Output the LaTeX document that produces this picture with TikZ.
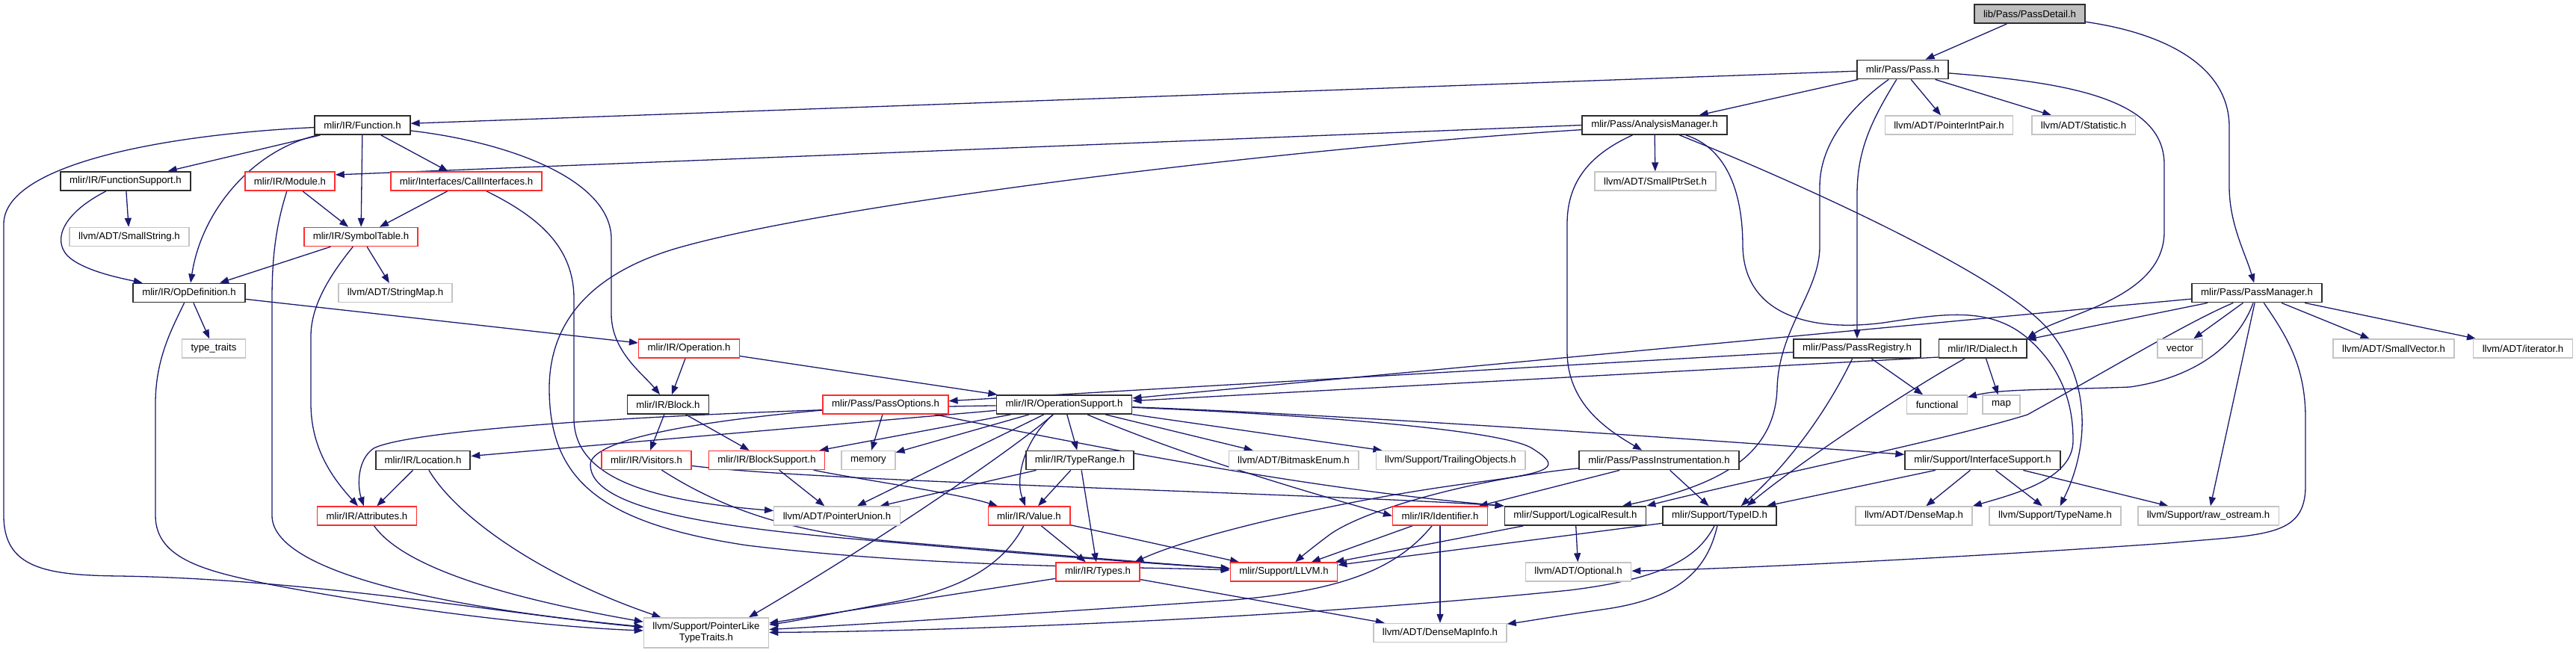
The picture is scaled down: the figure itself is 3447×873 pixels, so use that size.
\documentclass[tikz,border=0pt]{standalone}
\usepackage{fontspec}
\setmainfont{Liberation Sans}
\usepackage{tikz}
\usetikzlibrary{arrows.meta,backgrounds}
\definecolor{edgeblue}{RGB}{25,25,112}
\definecolor{docline}{RGB}{45,45,45}
\definecolor{truncred}{RGB}{255,45,45}
\definecolor{extgrey}{RGB}{196,196,196}
\definecolor{rootfill}{RGB}{191,191,191}
\tikzset{
  hdr/.style={rectangle, font=\fontsize{13.2}{15}\selectfont, text=black, inner xsep=12pt, inner ysep=1pt, minimum height=25pt, fill=white, line width=1.4pt},
  docnode/.style={hdr, draw=docline, line width=1.8pt},
  redtrunc/.style={hdr, draw=truncred},
  extfile/.style={hdr, draw=extgrey},
  rootfile/.style={docnode, fill=rootfill},
  incl/.style={-{Triangle[length=12pt,width=9pt]}, draw=edgeblue, line width=1.3pt},
}

\begin{document}
\begin{tikzpicture}[x=1pt,y=-1pt]
  \useasboundingbox (0,0) rectangle (3447,873);
  % header nodes, one row per rank
  \node[rootfile] (pd) at (2716,18.5) {lib/Pass/PassDetail.h};
  \node[docnode] (pass) at (2546,93) {mlir/Pass/Pass.h};
  \node[docnode] (func) at (485,167.5) {mlir/IR/Function.h};
  \node[docnode] (am) at (2214,167.5) {mlir/Pass/AnalysisManager.h};
  \node[extfile] (pip) at (2608,167.5) {llvm/ADT/PointerIntPair.h};
  \node[extfile] (stat) at (2788,167.5) {llvm/ADT/Statistic.h};
  \node[docnode] (fsup) at (168,242.5) {mlir/IR/FunctionSupport.h};
  \node[redtrunc] (module) at (388,242.5) {mlir/IR/Module.h};
  \node[redtrunc] (callif) at (624,242.5) {mlir/Interfaces/CallInterfaces.h};
  \node[extfile] (sptr) at (2215,242.5) {llvm/ADT/SmallPtrSet.h};
  \node[extfile] (sstr) at (173,317) {llvm/ADT/SmallString.h};
  \node[redtrunc] (symtab) at (483,317) {mlir/IR/SymbolTable.h};
  \node[docnode] (opdef) at (253,392) {mlir/IR/OpDefinition.h};
  \node[extfile] (smap) at (529,392) {llvm/ADT/StringMap.h};
  \node[docnode] (pm) at (3020,392) {mlir/Pass/PassManager.h};
  \node[extfile] (ttraits) at (286,466.5) {type\_traits};
  \node[redtrunc] (oper) at (922,466.5) {mlir/IR/Operation.h};
  \node[docnode] (preg) at (2485,466.5) {mlir/Pass/PassRegistry.h};
  \node[docnode] (dialect) at (2653,466.5) {mlir/IR/Dialect.h};
  \node[extfile] (vec) at (2917,466.5) {vector};
  \node[extfile] (svec) at (3203,466.5) {llvm/ADT/SmallVector.h};
  \node[extfile] (iter) at (3376,466.5) {llvm/ADT/iterator.h};
  \node[docnode] (block) at (894,541.5) {mlir/IR/Block.h};
  \node[redtrunc] (popt) at (1185,541.5) {mlir/Pass/PassOptions.h};
  \node[docnode] (opsup) at (1424,541.5) {mlir/IR/OperationSupport.h};
  \node[extfile] (functional) at (2592,541.5) {functional};
  \node[extfile] (map) at (2678,541.5) {map};
  \node[docnode] (loc) at (566,616) {mlir/IR/Location.h};
  \node[redtrunc] (visit) at (865,616) {mlir/IR/Visitors.h};
  \node[redtrunc] (bsup) at (1026,616) {mlir/IR/BlockSupport.h};
  \node[extfile] (mem) at (1162,616) {memory};
  \node[docnode] (trange) at (1445,616) {mlir/IR/TypeRange.h};
  \node[extfile] (bitmask) at (1731,616) {llvm/ADT/BitmaskEnum.h};
  \node[extfile] (trail) at (1941,616) {llvm/Support/TrailingObjects.h};
  \node[docnode] (pinst) at (2220,616) {mlir/Pass/PassInstrumentation.h};
  \node[docnode] (isup) at (2653,616) {mlir/Support/InterfaceSupport.h};
  \node[redtrunc] (attr) at (491,690.5) {mlir/IR/Attributes.h};
  \node[extfile] (punion) at (1120,690.5) {llvm/ADT/PointerUnion.h};
  \node[redtrunc] (value) at (1377,690.5) {mlir/IR/Value.h};
  \node[redtrunc] (ident) at (1927,690.5) {mlir/IR/Identifier.h};
  \node[docnode] (lres) at (2108,690.5) {mlir/Support/LogicalResult.h};
  \node[docnode] (typeid) at (2301,690.5) {mlir/Support/TypeID.h};
  \node[extfile] (dmap) at (2561,690.5) {llvm/ADT/DenseMap.h};
  \node[extfile] (tname) at (2750,690.5) {llvm/Support/TypeName.h};
  \node[extfile] (rawos) at (2955,690.5) {llvm/Support/raw\_ostream.h};
  \node[redtrunc] (types) at (1469,765.5) {mlir/IR/Types.h};
  \node[redtrunc] (llvm) at (1718,765.5) {mlir/Support/LLVM.h};
  \node[extfile] (optional) at (2112,765.5) {llvm/ADT/Optional.h};
  \node[extfile,align=center,minimum height=40pt] (plike) at (945,847) {llvm/Support/PointerLike\\TypeTraits.h};
  \node[extfile] (dminfo) at (1927,847) {llvm/ADT/DenseMapInfo.h};

  \begin{scope}[on background layer]
  % straight includes
  \foreach \a/\b in {pd/pass, pass/func, pass/am, pass/pip, pass/stat, func/fsup, func/symtab, func/callif,
      am/sptr, fsup/sstr, module/symtab, callif/symtab, symtab/opdef, symtab/smap, opdef/oper, opdef/ttraits,
      oper/block, oper/opsup, block/visit, block/bsup, popt/mem, preg/popt, preg/functional, dialect/map,
      pm/opsup, pm/dialect, pm/vec, pm/rawos, pm/svec, pm/iter, opsup/loc, opsup/bsup, opsup/mem,
      opsup/punion, opsup/trange, opsup/bitmask, opsup/trail, loc/attr, bsup/punion, trange/punion,
      trange/value, trange/types, value/types, value/llvm, types/plike, types/dminfo, ident/llvm,
      ident/dminfo, lres/llvm, lres/optional, typeid/llvm, isup/typeid, isup/dmap, isup/tname,
      isup/rawos, pinst/ident, pinst/typeid}
    \draw[incl] (\a) -- (\b);
  \draw[incl] (am.west) -- (module.8);
  \draw[incl] (dialect.191) -- (opsup);
  % curved includes
  \draw[incl] (pd) .. controls (2900,45) and (2983,90) .. (2983,170) -- (2983,250) .. controls (2983,300) and (3005,340) .. (pm);
  \draw[incl] (pass) .. controls (2505,160) and (2485,200) .. (2485,260) -- (preg);
  \draw[incl] (pass) .. controls (2480,140) and (2435,190) .. (2435,250) -- (2435,330) .. controls (2435,390) and (2380,440) .. (2378,520) .. controls (2375,610) and (2300,650) .. (lres.12);
  \draw[incl] (pass) .. controls (2760,110) and (2896,130) .. (2896,220) -- (2896,310) .. controls (2896,400) and (2760,420) .. (dialect.north east);
  \draw[incl] (func) .. controls (340,200) and (270,280) .. (opdef);
  \draw[incl] (func) .. controls (680,190) and (818,240) .. (818,320) -- (818,420) .. controls (818,470) and (860,500) .. (block);
  \draw[incl] (func) .. controls (220,180) and (5,220) .. (5,300) -- (5,690) .. controls (5,760) and (60,770) .. (160,771) .. controls (420,775) and (700,825) .. (plike);
  \draw[incl] (am) .. controls (2120,210) and (2097,250) .. (2097,300) -- (2097,470) .. controls (2097,540) and (2150,575) .. (pinst);
  \draw[incl] (am) .. controls (1700,200) and (1100,275) .. (903,333) .. controls (780,370) and (735,440) .. (735,520) .. controls (735,640) and (800,700) .. (1000,730) .. controls (1250,760) and (1500,758) .. (llvm);
  \draw[incl] (am) .. controls (2300,195) and (2332,240) .. (2332,330) .. controls (2334,420) and (2420,445) .. (2520,432) .. controls (2600,420) and (2660,410) .. (2710,450) .. controls (2770,500) and (2774,560) .. (2774,590) .. controls (2774,640) and (2700,660) .. (dmap.north east);
  \draw[incl] (am) .. controls (2420,250) and (2680,370) .. (2740,440) .. controls (2800,510) and (2795,600) .. (tname);
  \draw[incl] (fsup) .. controls (85,285) and (70,320) .. (90,342) .. controls (110,362) and (160,372) .. (opdef);
  \draw[incl] (module) .. controls (370,300) and (364,340) .. (364,400) -- (364,690) .. controls (364,760) and (560,810) .. (plike);
  \draw[incl] (callif) .. controls (720,290) and (768,330) .. (768,400) -- (768,560) .. controls (768,640) and (870,670) .. (punion);
  \draw[incl] (symtab) .. controls (440,370) and (416,410) .. (416,450) -- (416,540) .. controls (416,600) and (445,640) .. (attr);
  \draw[incl] (opdef) .. controls (230,440) and (208,480) .. (208,540) -- (208,690) .. controls (208,750) and (280,765) .. (360,782) .. controls (560,820) and (750,840) .. (plike);
  \draw[incl] (popt) .. controls (920,565) and (790,590) .. (790,622) .. controls (790,680) and (950,705) .. (1150,722) .. controls (1350,740) and (1550,755) .. (llvm);
  \draw[incl] (popt) .. controls (1450,595) and (1750,655) .. (lres.north west);
  \draw[incl] (preg) .. controls (2450,540) and (2400,615) .. (typeid.25);
  \draw[incl] (dialect) .. controls (2540,530) and (2400,625) .. (typeid.20);
  \draw[incl] (pm) .. controls (2930,430) and (2830,490) .. (2713,555) .. controls (2600,590) and (2350,640) .. (lres.8);
  \draw[incl] (pm) .. controls (2995,460) and (2940,505) .. (2850,518) .. controls (2750,522) and (2680,520) .. (functional);
  \draw[incl] (pm) .. controls (3060,450) and (3085,490) .. (3085,560) -- (3085,650) .. controls (3085,720) and (3030,715) .. (2900,727) .. controls (2600,748) and (2300,762) .. (optional);
  \draw[incl] (opsup) .. controls (1000,548) and (560,570) .. (500,600) .. controls (478,615) and (478,650) .. (attr);
  \draw[incl] (opsup) .. controls (1370,590) and (1200,710) .. (plike.20);
  \draw[incl] (opsup) .. controls (1370,590) and (1358,640) .. (value);
  \draw[incl] (opsup) .. controls (1750,555) and (2010,575) .. (2050,600) .. controls (2090,625) and (2080,632) .. (1980,645) .. controls (1800,668) and (1600,715) .. (types.15);
  \draw[incl] (opsup) .. controls (1560,600) and (1700,645) .. (ident.west);
  \draw[incl] (opsup) .. controls (1800,555) and (2300,590) .. (isup);
  \draw[incl] (loc) .. controls (610,690) and (720,770) .. (plike);
  \draw[incl] (visit) .. controls (980,690) and (1080,715) .. (1200,725) .. controls (1400,742) and (1560,755) .. (llvm);
  \draw[incl] (visit) .. controls (1100,645) and (1750,660) .. (lres.north west);
  \draw[incl] (bsup) .. controls (1140,640) and (1280,660) .. (value);
  \draw[incl] (value) .. controls (1345,750) and (1300,785) .. (1200,805) .. controls (1120,820) and (1060,832) .. (plike);
  \draw[incl] (ident) .. controls (1870,760) and (1800,790) .. (1650,803) .. controls (1400,820) and (1150,836) .. (plike);
  \draw[incl] (typeid) .. controls (2285,760) and (2250,800) .. (2150,815) .. controls (2080,825) and (2040,832) .. (dminfo);
  \draw[incl] (typeid) .. controls (2270,750) and (2220,775) .. (2100,790) .. controls (1700,830) and (1250,845) .. (plike);
  \draw[incl] (pinst) .. controls (1980,640) and (1830,680) .. (1780,715) .. controls (1760,730) and (1745,742) .. (llvm);
  \draw[incl] (attr) .. controls (530,745) and (620,790) .. (plike);
  \end{scope}
\end{tikzpicture}
\end{document}
